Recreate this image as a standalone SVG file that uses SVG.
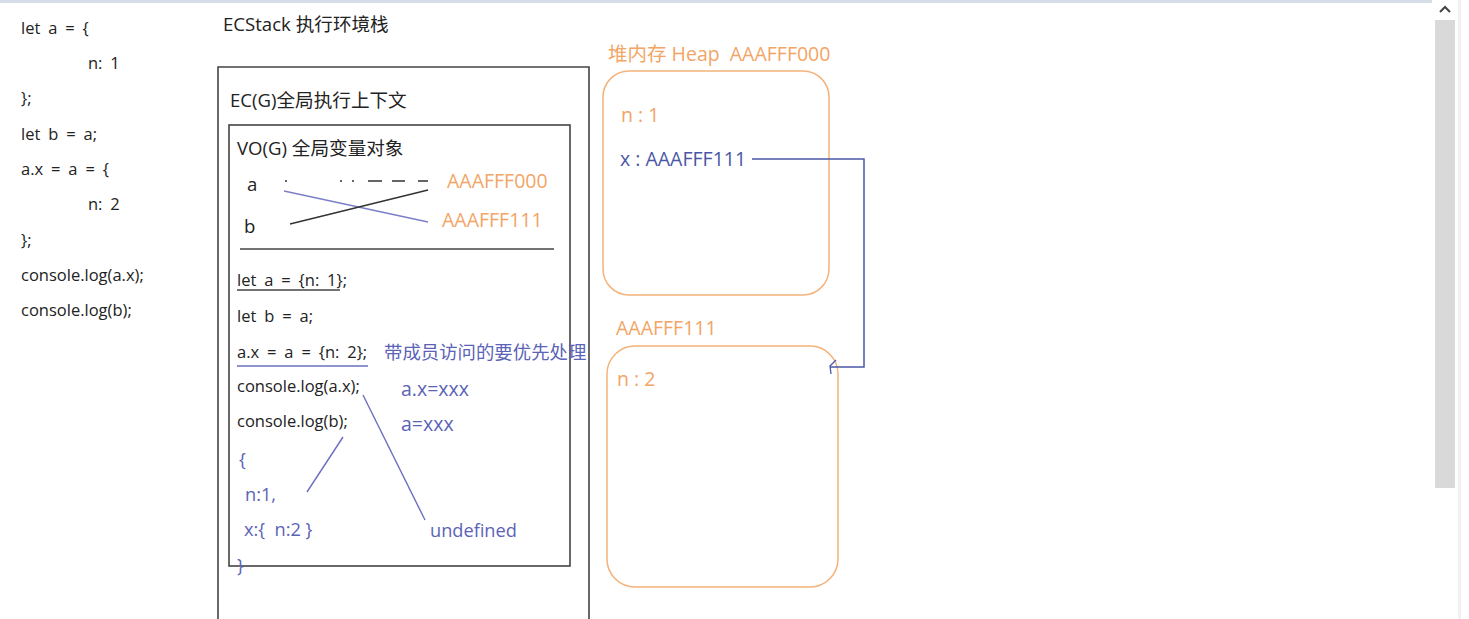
<svg xmlns="http://www.w3.org/2000/svg" width="1469" height="619" viewBox="0 0 1469 619">
<style>
text{font-family:"Open Sans","Noto Sans CJK SC",sans-serif;font-size:16.5px;fill:#222;white-space:pre}
.c{word-spacing:3.6px}
.t{font-size:18.6px}
.l{font-size:19.5px}
.m{font-size:18.2px}
.o{fill:#f2a566}
.b{fill:#5b63b7}
.bd{fill:#4b56a6}
.cj{font-size:18.4px}
.box{fill:none;stroke:#444;stroke-width:1.6}
.heap{fill:none;stroke:#f5b27a;stroke-width:1.5}
.bl{stroke:#6a6fc0;stroke-width:1.4;fill:none}
</style>
<rect x="0" y="0" width="1469" height="619" fill="#fff"/>
<rect x="0" y="0" width="1432" height="3" fill="#d6dde6"/>
<g id="scrollbar">
<rect x="1458" y="0" width="3" height="619" fill="#f0f0f0"/>
<path d="M1440 12 L1445 7 L1450 12" fill="none" stroke="#444" stroke-width="2"/>
<rect x="1435" y="20" width="20" height="468" fill="#d9d9d9"/>
</g>
<g id="code">
<text class="c" x="21" y="34">let a = {</text>
<text class="c" x="88" y="69">n: 1</text>
<text class="c" x="21" y="104">};</text>
<text class="c" x="21" y="140">let b = a;</text>
<text class="c" x="21" y="175">a.x = a = {</text>
<text class="c" x="88" y="210">n: 2</text>
<text class="c" x="21" y="246">};</text>
<text class="c" x="21" y="281">console.log(a.x);</text>
<text class="c" x="21" y="316">console.log(b);</text>
</g>
<text class="t" x="223" y="31">ECStack 执行环境栈</text>
<g id="ecstack">
<path class="box" d="M218 619 V67 H589 V619"/>
<text class="t" x="230" y="107">EC(G)全局执行上下文</text>
</g>
<g id="vo">
<rect class="box" x="229" y="125" width="341" height="441"/>
<text class="t" x="237" y="155">VO(G) 全局变量对象</text>
<text class="t" x="247" y="191">a</text>
<text class="t" x="244" y="233">b</text>
<text class="o l" x="447" y="188">AAAFFF000</text>
<text class="o l" x="442" y="227">AAAFFF111</text>
<line x1="240" y1="249" x2="554" y2="249" stroke="#444" stroke-width="1.6"/>
<text class="c" x="237" y="286">let a = {n: 1};</text>
<line x1="237" y1="290" x2="340" y2="290" stroke="#444" stroke-width="1.6"/>
<text class="c" x="237" y="322">let b = a;</text>
<text class="c" x="237" y="358">a.x = a = {n: 2};</text>
<line x1="237" y1="366" x2="368" y2="366" stroke="#6a6fc0" stroke-width="1.6"/>
<text class="b cj" x="384" y="359">带成员访问的要优先处理</text>
<text class="c" x="237" y="392">console.log(a.x);</text>
<text class="b l" x="401" y="396">a.x=xxx</text>
<text class="c" x="237" y="427">console.log(b);</text>
<text class="b l" x="401" y="431">a=xxx</text>
<text class="b m" x="239" y="466">{</text>
<text class="b m" x="245" y="501">n:1,</text>
<text class="b m" x="244" y="536">x:{  n:2 }</text>
<text class="b m" x="237" y="572">}</text>
<text class="b m" x="430" y="537">undefined</text>
</g>
<g id="heap1">
<text class="o l" x="608" y="61">堆内存 Heap  AAAFFF000</text>
<rect class="heap" x="603" y="71" width="226" height="224" rx="26"/>
<text class="o l" x="621" y="122">n : 1</text>
<text class="bd l" x="620" y="166">x : AAAFFF111</text>
</g>
<g id="heap2">
<text class="o l" x="616" y="335">AAAFFF111</text>
<rect class="heap" x="607" y="346" width="231" height="241" rx="28"/>
<text class="o l" x="617" y="386">n : 2</text>
</g>
<g id="connectors">
<path d="M285 181 H287 M340 181 H342 M352 181 H354 M368 181 H382 M392 181 H405 M418 181 H428" stroke="#333" stroke-width="1.6" fill="none"/>
<line x1="284" y1="191" x2="428" y2="222" stroke="#7c7fc8" stroke-width="1.4"/>
<line x1="290" y1="224" x2="428" y2="190" stroke="#333" stroke-width="1.4"/>
<line class="bl" x1="343" y1="437" x2="307" y2="492"/>
<line class="bl" x1="363" y1="395" x2="425" y2="520"/>
<path d="M752 159 H864 V367 H830" stroke="#4b5aa8" stroke-width="1.5" fill="none"/>
<path d="M836 360 L830 366 L831 374" stroke="#4b5aa8" stroke-width="1.3" fill="none"/>
</g>
</svg>
